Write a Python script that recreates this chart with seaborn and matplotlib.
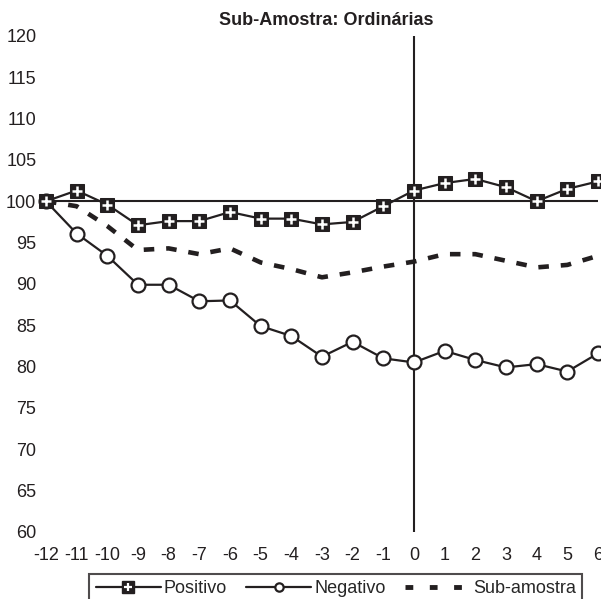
import numpy as np
import pandas as pd
import seaborn as sns
import matplotlib.pyplot as plt
from matplotlib.legend_handler import HandlerTuple
from matplotlib.lines import Line2D

# dados
meses = list(range(-12, 7))
positivo = [100, 101.3, 99.6, 97.1, 97.6, 97.6, 98.7, 97.9, 97.9, 97.2,
            97.5, 99.4, 101.3, 102.2, 102.7, 101.7, 100.0, 101.5, 102.4]
negativo = [100, 96.1, 93.4, 89.9, 89.9, 87.9, 88.0, 84.9, 83.7, 81.2,
            83.0, 81.0, 80.5, 81.9, 80.8, 79.9, 80.3, 79.4, 81.6]
sub_amostra = [100, 99.4, 97.0, 94.1, 94.3, 93.6, 94.3, 92.6, 91.8, 90.8,
               91.4, 92.1, 92.7, 93.6, 93.6, 92.8, 92.0, 92.3, 93.4]

df = pd.DataFrame({'mes': meses, 'Positivo': positivo,
                   'Negativo': negativo, 'Sub-amostra': sub_amostra})

sns.set_style('white')
plt.rcParams['font.family'] = ['Liberation Sans', 'DejaVu Sans']
plt.rcParams['axes.unicode_minus'] = False
cor = '#231f20'

fig = plt.figure(figsize=(6.01, 5.99), dpi=100)
ax = fig.add_axes([0.0765, 0.112, 0.9185, 0.828])

# linhas de referência
ax.plot([-12, 6], [100, 100], color=cor, lw=1.5, zorder=1)
ax.axvline(0, color=cor, lw=1.5, zorder=1)

sns.lineplot(data=df, x='mes', y='Sub-amostra', ax=ax, color=cor,
             lw=3.3, zorder=2)
ax.lines[-1].set_dashes([2.3, 2.6])
sns.lineplot(data=df, x='mes', y='Negativo', ax=ax, color=cor, lw=1.6,
             marker='o', markersize=10, markerfacecolor='white',
             markeredgecolor=cor, markeredgewidth=1.6, zorder=3, clip_on=False)
sns.lineplot(data=df, x='mes', y='Positivo', ax=ax, color=cor, lw=1.6,
             marker='s', markersize=9.5, markerfacecolor=cor,
             markeredgecolor=cor, zorder=4, clip_on=False)
ax.plot(df['mes'], df['Positivo'], ls='none', marker='+', markersize=7,
        markeredgecolor='white', markeredgewidth=1.8, zorder=5, clip_on=False)

ax.set_xlim(-12, 6)
ax.set_ylim(60, 120)
ax.set_xticks(meses)
ax.set_yticks(range(60, 121, 5))
ax.tick_params(labelsize=13, length=0, colors=cor)
ax.tick_params(axis='x', pad=11)
ax.tick_params(axis='y', pad=7)
ax.set_xlabel('')
ax.set_ylabel('')
for s in ax.spines.values():
    s.set_visible(False)
fig.text(0.543, 0.965, 'Sub-Amostra: Ordinárias', fontsize=13, fontweight='bold',
         color=cor, ha='center', va='center')

h_pos = (Line2D([], [], color=cor, lw=1.6, marker='s', markersize=8,
                markerfacecolor=cor, markeredgecolor=cor),
         Line2D([], [], ls='none', marker='+', markersize=6,
                markeredgecolor='white', markeredgewidth=1.6))
h_neg = Line2D([], [], color=cor, lw=1.6, marker='o', markersize=6,
               markerfacecolor='white', markeredgecolor=cor,
               markeredgewidth=1.6)
h_sub = Line2D([], [], color=cor, lw=3.5, dashes=[1.6, 3.4])
leg = ax.legend([h_pos, h_neg, h_sub], ['Positivo', 'Negativo', 'Sub-amostra'],
                handler_map={tuple: HandlerTuple(ndivide=1)},
                loc='upper center', bbox_to_anchor=(0.525, -0.066), ncol=3,
                frameon=True, fancybox=False, fontsize=13, handlelength=3.6,
                handletextpad=0.15, columnspacing=1.1, borderpad=0.35)
leg.get_frame().set_edgecolor(cor)
leg.get_frame().set_linewidth(1.5)

fig.savefig('out.png', dpi=100)
